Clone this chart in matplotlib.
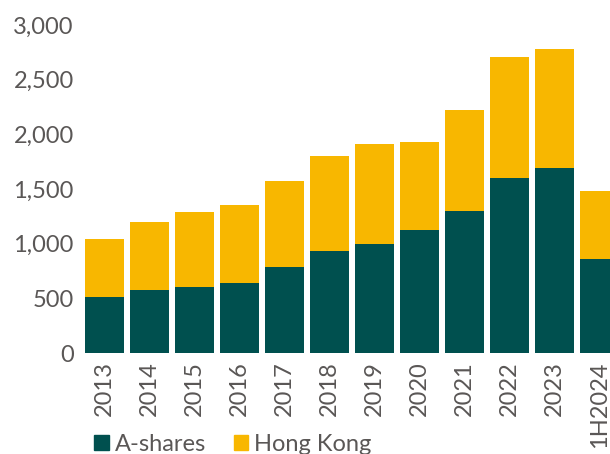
import matplotlib.pyplot as plt
from matplotlib.patches import Patch

plt.rcParams['font.family'] = ['Lato', 'DejaVu Sans']

# Listings by market
years = ['2013', '2014', '2015', '2016', '2017', '2018', '2019', '2020',
         '2021', '2022', '2023', '1H2024']
a_shares = [515, 576, 604, 640, 787, 933, 997, 1125, 1299, 1601, 1693, 860]
totals = [1043, 1199, 1290, 1354, 1574, 1802, 1912, 1930, 2223, 2708, 2781, 1482]
hong_kong = [t - a for t, a in zip(totals, a_shares)]

teal = '#00504F'
yellow = '#F8B700'
grey = '#5A5756'

fig = plt.figure(figsize=(6.10, 4.54), dpi=100)
# axes runs past the right edge, the last bar is cut like the original
ax = fig.add_axes([82 / 610, 101 / 454, 540 / 610, 328 / 454])

x = range(len(years))
ax.bar(x, a_shares, width=0.87, color=teal, label='A-shares')
ax.bar(x, hong_kong, width=0.87, bottom=a_shares, color=yellow, label='Hong Kong')

ax.set_xlim(-0.5, len(years) - 0.5)
ax.set_ylim(0, 3000)
ax.set_yticks(range(0, 3001, 500))
ax.set_yticklabels([f'{v:,}' for v in range(0, 3001, 500)])
ax.set_xticks(list(x))
ax.set_xticklabels(years, rotation=90)
ax.tick_params(axis='both', length=0, labelsize=17, colors=grey)
ax.tick_params(axis='y', pad=6)
ax.tick_params(axis='x', pad=6)
for s in ax.spines.values():
    s.set_visible(False)

handles = [Patch(color=teal, label='A-shares'), Patch(color=yellow, label='Hong Kong')]
leg = fig.legend(handles=handles, loc='lower left', bbox_to_anchor=(85 / 610, -10 / 454),
                 ncol=2, frameon=False, fontsize=17, handlelength=0.6, handleheight=0.6,
                 handletextpad=0.25, columnspacing=1.2, borderaxespad=0)
for t in leg.get_texts():
    t.set_color(grey)

fig.savefig('out.png', dpi=100)
